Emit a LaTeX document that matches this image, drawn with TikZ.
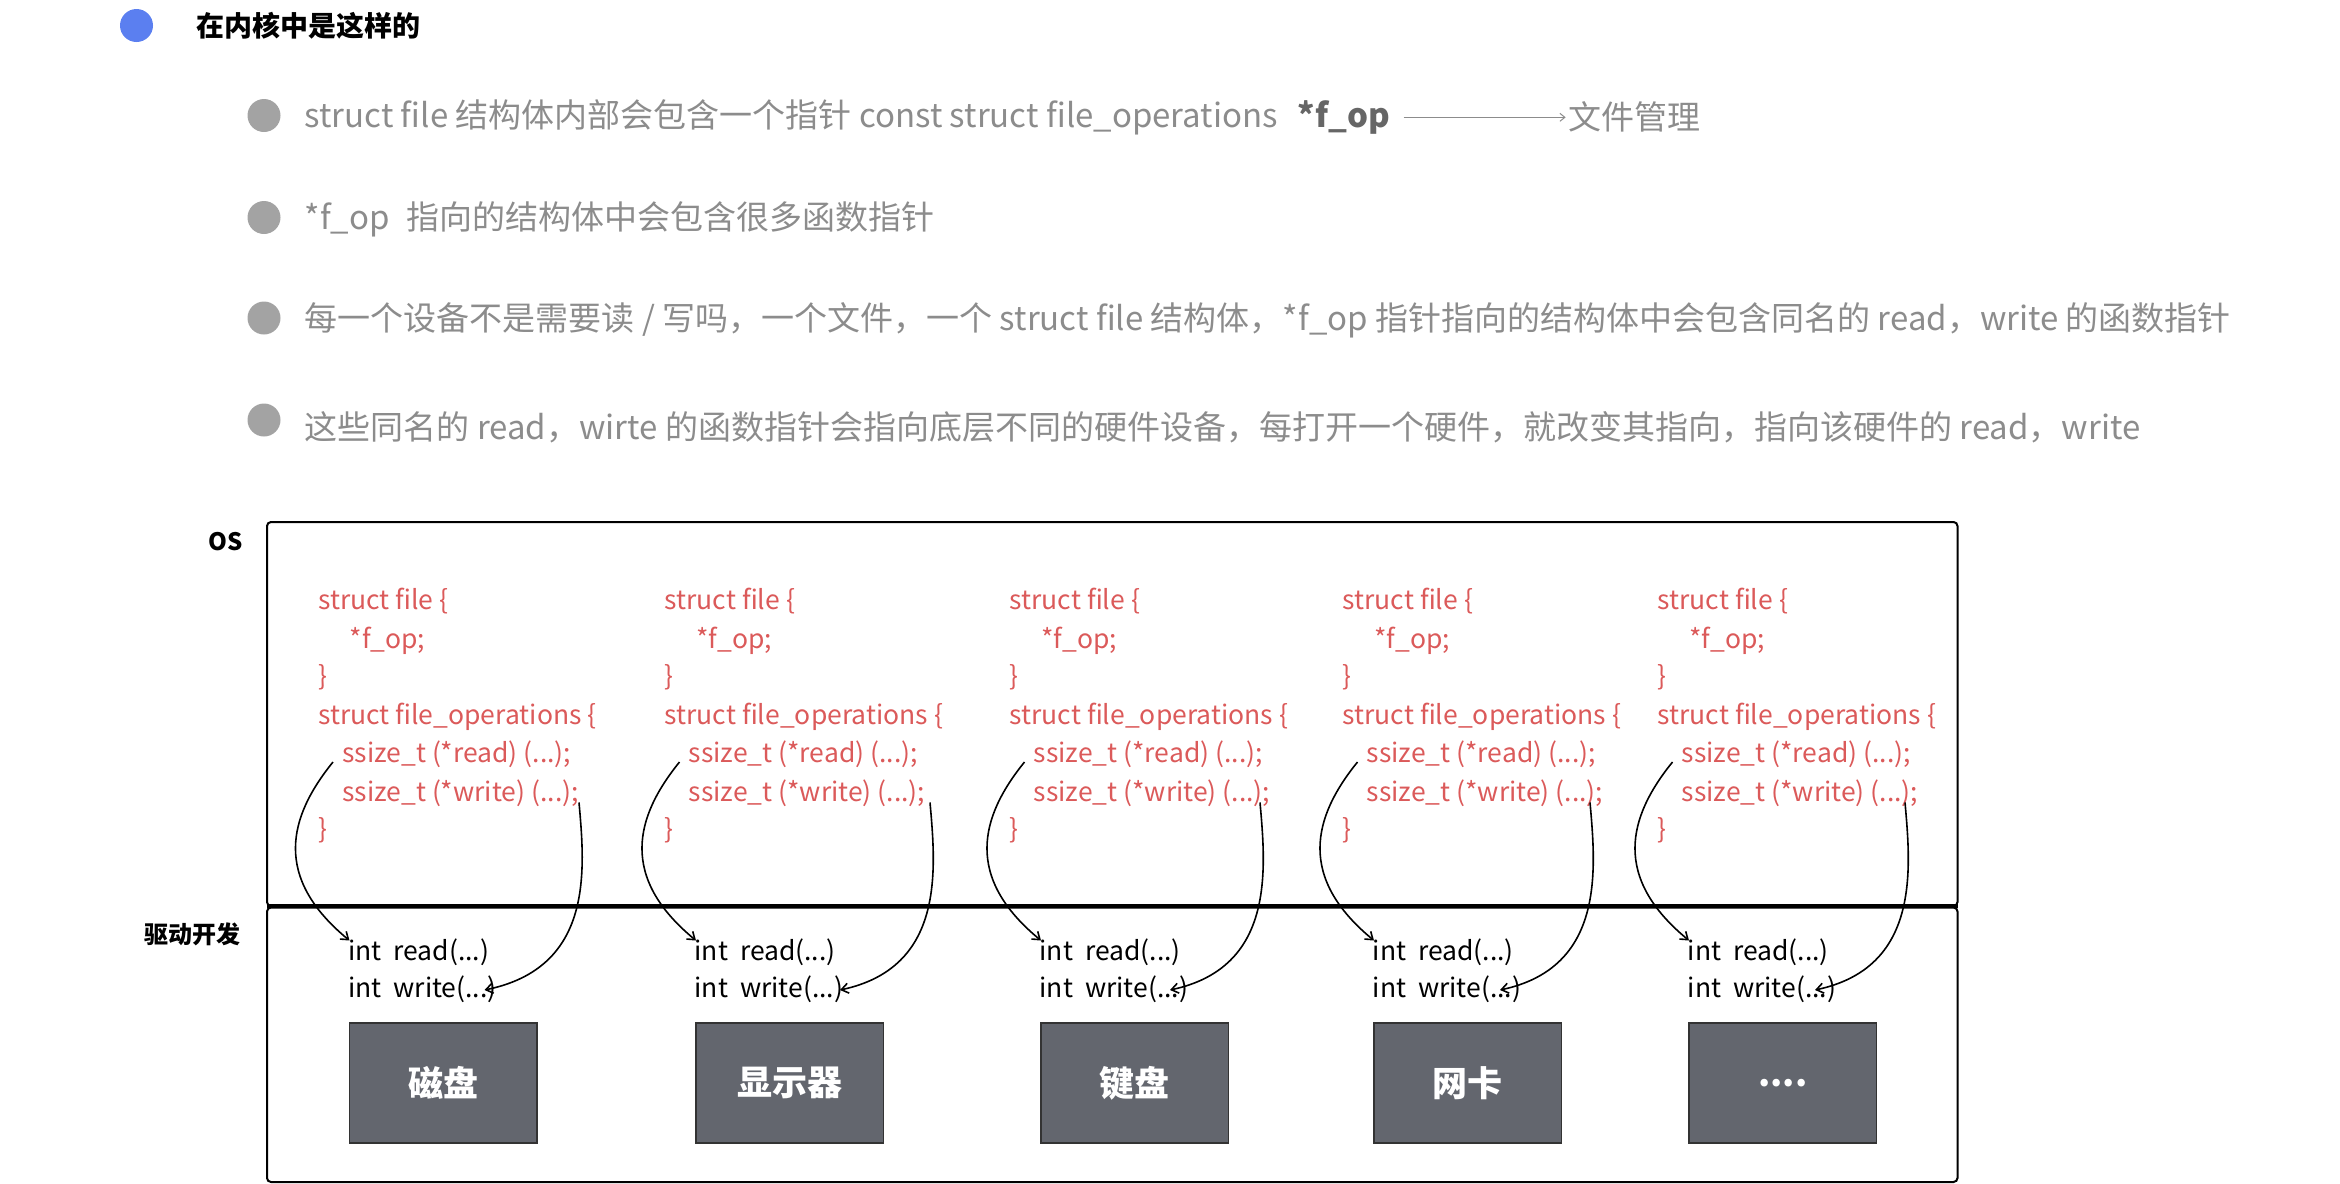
\documentclass[tikz,border=0pt]{standalone}
\usepackage{fontspec}
\setmainfont{Noto Sans CJK SC}
\usetikzlibrary{arrows.meta,calc}
\definecolor{redt}{HTML}{DB5A5A}
\definecolor{greyt}{HTML}{8C8C8C}
\definecolor{boxf}{HTML}{63666E}
\definecolor{bluedot}{HTML}{5B7FF0}
\newcommand\fourdots{.\kern0pt.\kern0pt.\kern0pt.}
\begin{document}
\begin{tikzpicture}[x=1.5pt,y=-1.5pt,
  bul/.style={anchor=base west,inner sep=0pt,text=greyt,font=\fontsize{33}{33}\selectfont},
  code/.style={anchor=base west,inner sep=0pt,text=redt,font=\fontsize{26.5}{26.5}\selectfont},
  drv/.style={anchor=base west,inner sep=0pt,text=black,font=\fontsize{26.5}{26.5}\selectfont},
  dev/.style={draw=black!80,line width=1.2pt,fill=boxf,text=white,minimum width=187.5pt,minimum height=120pt,font=\fontsize{35}{35}\selectfont\bfseries},
  lbl/.style={anchor=base west,inner sep=0pt,font=\fontsize{24}{24}\selectfont\bfseries},
  arr/.style={line width=1.6pt,-{Straight Barb[length=7pt,width=10pt]}}]
\useasboundingbox (0,0) rectangle (1560,788.67);
\fill[bluedot] (91,17) circle (11);
\node[lbl,font=\fontsize{28}{28}\selectfont\bfseries] (title) at (131,24) {在内核中是这样的};
\foreach \yy in {77,145,212,280} \fill[greyt!80] (176,\yy) circle (11);
\node[bul] (b1) at (203,85) {struct file 结构体内部会包含一个指针 const struct file\_operations\hspace{0.6em}\textbf{\color{black!60}*f\_op}};
\coordinate (a1s) at ($(b1.east)+(9,0)$);
\coordinate (a1e) at ($(a1s)+(108,0)$);
\node[bul,anchor=west] (fm) at ($(a1e)+(2,0)$) {文件管理};
\draw[greyt,line width=1pt,-{Straight Barb[length=5pt,width=8pt]}] (a1s) -- (a1e);
\node[bul] (b2) at (203,153) {*f\_op\hspace{0.5em}指向的结构体中会包含很多函数指针};
\node[bul] (b3) at (203,220) {每一个设备不是需要读 / 写吗，一个文件，一个 struct file 结构体，*f\_op 指针指向的结构体中会包含同名的 read，write 的函数指针};
\node[bul] (b4) at (203,293) {这些同名的 read，wirte 的函数指针会指向底层不同的硬件设备，每打开一个硬件，就改变其指向，指向该硬件的 read，write};
\node[lbl] (os) at (139,367) {OS};
\node[lbl] (drvl) at (96,629) {驱动开发};
\draw[line width=2pt,rounded corners=4pt] (178,348) rectangle (1305,604);
\draw[line width=2pt,rounded corners=4pt] (178,605) rectangle (1305,788);
\draw[line width=3.5pt] (178,604) -- (1305,604);
\foreach \c/\w/\e/\n [count=\i] in {212/174/111/磁盘, 443/177/117/显示器, 673/167/107/键盘, 895/165/105/网卡, 1105/165/105/\fourdots}{
  \node[code] (sf\i) at (\c,406) {struct file \{};
  \node[code] (fo\i) at (\c+21,432) {*f\_op;};
  \node[code] (c1\i) at (\c,457) {\}};
  \node[code] (so\i) at (\c,483) {struct file\_operations \{};
  \node[code] (rd\i) at (\c+16,508) {ssize\_t (*read) (...);};
  \node[code] (wr\i) at (\c+16,534) {ssize\_t (*write) (...);};
  \node[code] (c2\i) at (\c,559) {\}};
  \node[drv] (ir\i) at (\c+20,640) {int\hspace{0.45em}read(...)};
  \node[drv] (iw\i) at (\c+20,665) {int\hspace{0.45em}write(...)};
  \node[dev] (d\i) at (\c+83.5,722) {\n};
  \coordinate (rs\i) at (\c+10,508);
  \coordinate (re\i) at (\c+21,627);
  \coordinate (ws\i) at (\c+\w,535);
  \coordinate (we\i) at (\c+\e,660);
  \draw[arr] (rs\i) .. controls (\c-20,545) and (\c-30,585) .. (re\i);
  \draw[arr] (ws\i) .. controls (\c+\w+4,580) and (\c+\w+10,645) .. (we\i);
}
\end{tikzpicture}
\end{document}
